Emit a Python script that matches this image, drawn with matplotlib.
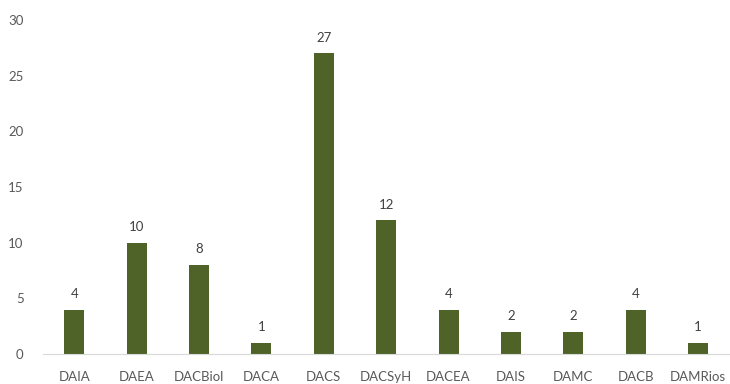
import numpy as np
import matplotlib.pyplot as plt

plt.rcParams['font.family'] = ['Lato', 'DejaVu Sans']

# data
categories = ["DAIA", "DAEA", "DACBiol", "DACA", "DACS", "DACSyH",
              "DACEA", "DAIS", "DAMC", "DACB", "DAMRios"]
values = [4, 10, 8, 1, 27, 12, 4, 2, 2, 4, 1]

fig = plt.figure(figsize=(7.3, 3.84), dpi=100)
ax = fig.add_axes([0.059, 0.078, 0.94, 0.87])

x = np.arange(len(categories))
bars = ax.bar(x, values, width=0.32, color="#4f6228")

for xi, v in zip(x, values):
    ax.text(xi, v + 0.85, str(v), ha="center", va="bottom",
            fontsize=9.5, color="#404040")

ax.set_xlim(-0.5, len(categories) - 0.5)
ax.set_ylim(0, 30)
ax.set_yticks(range(0, 31, 5))
ax.set_xticks(x)
ax.set_xticklabels(categories)
ax.tick_params(axis="both", length=0, labelsize=9.5, colors="#595959")
ax.tick_params(axis="x", pad=12)
ax.tick_params(axis="y", pad=14)

for s in ["top", "right", "left"]:
    ax.spines[s].set_visible(False)
ax.spines["bottom"].set_color("#d9d9d9")

fig.savefig("out.png", dpi=100)
